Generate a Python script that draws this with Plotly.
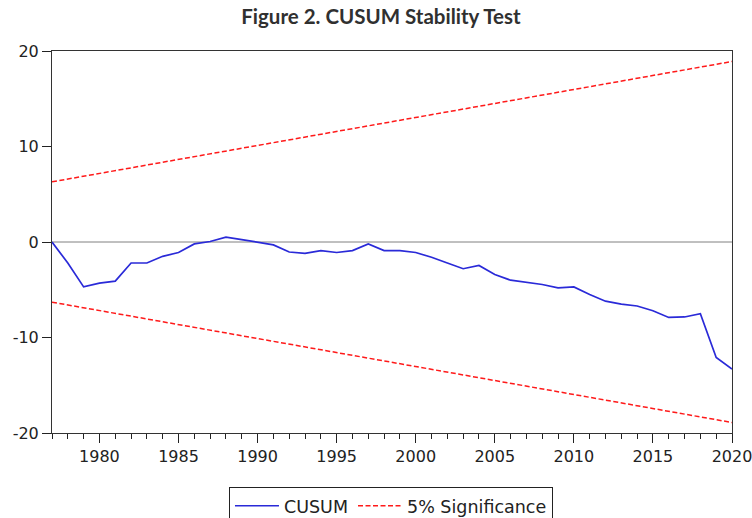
import plotly.graph_objects as go

years = list(range(1977, 2021))
cusum = [0.0, -2.2, -4.7, -4.3, -4.1, -2.2, -2.2, -1.5, -1.1, -0.2,
         0.05, 0.5, 0.25, 0.0, -0.3, -1.05, -1.2, -0.9, -1.1, -0.9,
         -0.2, -0.9, -0.9, -1.1, -1.6, -2.2, -2.8, -2.45, -3.4, -4.0,
         -4.2, -4.45, -4.8, -4.7, -5.5, -6.2, -6.5, -6.7, -7.2, -7.9,
         -7.85, -7.5, -12.1, -13.3]
bound_years = [1977, 2020]
upper_bound = [6.3, 18.9]
lower_bound = [-6.3, -18.9]

title_text = "Figure 2. CUSUM Stability Test"
y_ticks = [-20, -10, 0, 10, 20]
y_tick_text = ["-20", "-10", "0", "10", "20"]
x_ticks = [1980, 1985, 1990, 1995, 2000, 2005, 2010, 2015, 2020]

fig = go.Figure()
fig.add_trace(go.Scatter(x=years, y=cusum, mode="lines", name="CUSUM",
                         line=dict(color="#2a2ad8", width=1.7)))
fig.add_trace(go.Scatter(x=bound_years, y=upper_bound, mode="lines", name="5% Significance",
                         line=dict(color="#ff1a1a", width=1.5, dash="5px,2.5px")))
fig.add_trace(go.Scatter(x=bound_years, y=lower_bound, mode="lines", showlegend=False,
                         line=dict(color="#ff1a1a", width=1.5, dash="5px,2.5px")))

fig.add_shape(type="line", xref="paper", yref="y", x0=0, x1=1, y0=0, y1=0,
              line=dict(color="#808080", width=1), layer="below")

fig.update_layout(
    width=752, height=518,
    margin=dict(l=52, r=20, t=51, b=85, autoexpand=False),
    paper_bgcolor="white", plot_bgcolor="white",
    title=dict(text=title_text, x=0.5066, xanchor="center", y=0.967, yanchor="middle",
               font=dict(family="Lato", size=20.5, color="#303030", weight="bold")),
    font=dict(family="DejaVu Sans", size=16, color="#222222"),
    showlegend=True,
    legend=dict(orientation="h", x=0.4985, xanchor="center", y=-0.141, yanchor="top",
                bordercolor="#222222", borderwidth=1, bgcolor="white",
                font=dict(family="DejaVu Sans", size=17.5, color="#222222"),
                itemwidth=44, tracegroupgap=0),
)
fig.update_xaxes(range=[1977, 2020], tickvals=x_ticks, ticks="outside", ticklen=9,
                 tickcolor="#222", showgrid=False, zeroline=False, automargin=False,
                 ticklabeloverflow="allow",
                 showline=True, linecolor="#333", linewidth=1, mirror=True,
                 tickfont=dict(family="DejaVu Sans", size=16, color="#222"),
                 minor=dict(dtick=1, tick0=1977, ticks="outside", ticklen=5, tickcolor="#222"))
fig.update_yaxes(range=[-20, 20], tickvals=y_ticks, ticktext=y_tick_text, ticks="outside",
                 ticklen=9, tickcolor="#222", showgrid=False, zeroline=False, automargin=False,
                 showline=True, linecolor="#333", linewidth=1, mirror=True,
                 tickfont=dict(family="DejaVu Sans", size=16, color="#222"))

# remove the browser's default 8px body margin so the 752x518 figure fills the window
fig.write_html("out.html", config={"displayModeBar": False},
               post_script="document.body.style.margin='0';document.body.style.overflow='hidden';")
